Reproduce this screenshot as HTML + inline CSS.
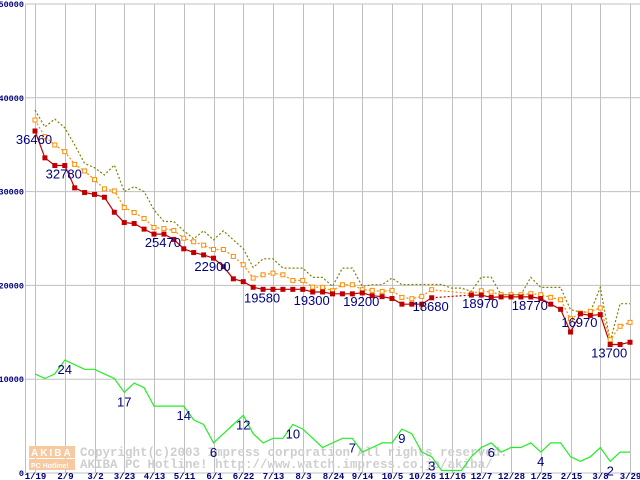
<!DOCTYPE html>
<html><head><meta charset="utf-8"><style>
body{margin:0;background:#fff;width:640px;height:480px;overflow:hidden}
svg{display:block}
</style></head><body>
<svg id="c" width="640" height="480" xmlns="http://www.w3.org/2000/svg">
<g id="grid"></g>
<g id="wm">
<rect x="29" y="446" width="46" height="12" fill="#f8c8a0"/>
<rect x="29" y="459" width="46" height="11" fill="#f8c8a0"/>
<text x="31" y="456" font-family="Liberation Sans, sans-serif" font-size="10" font-weight="bold" fill="#fff" letter-spacing="2">AKIBA</text>
<text x="31" y="468" font-family="Liberation Sans, sans-serif" font-size="7" font-weight="bold" fill="#fff">PC Hotline!</text>
<text x="80" y="456" font-family="Liberation Mono, monospace" font-size="12.5" font-weight="bold" fill="#cfcfcf">Copyright(c)2003 Impress corporation All rights reserved.</text>
<text x="80" y="468" font-family="Liberation Mono, monospace" font-size="12.5" font-weight="bold" fill="#cfcfcf">AKIBA PC Hotline! http://www.watch.impress.co.jp/akiba/</text>
</g>
<g id="series"></g>
<g id="labels"></g>
</svg>
<script>
const xLabels=["1/19","2/9","3/2","3/23","4/13","5/11","6/1","6/22","7/13","8/3","8/24","9/14","10/5","10/26","11/16","12/7","12/28","1/25","2/15","3/8","3/29"];
const yTicks=[0,10000,20000,30000,40000,50000];
const maxPrice=[38690,36900,37730,36800,34970,33010,32550,31770,32840,30000,30530,30000,28050,26810,26810,25820,24970,25820,24860,25820,24860,23900,21910,22840,22840,21840,21840,21840,20850,20850,19890,21840,21840,19890,20070,20070,20780,20070,20100,20100,20100,20100,19710,19710,19360,20880,20880,19010,19010,19010,20850,19790,19790,19790,17410,17160,17160,19790,14040,18050,18050];
const avgPrice=[37630,35850,34970,34260,32900,32200,31280,30290,30070,28300,27770,27130,26170,26060,25850,25030,24650,24290,23830,23830,23090,22200,20780,21130,21310,21130,20530,20530,19820,19790,19430,20070,20070,19540,19470,19360,19470,18720,18580,18830,19540,null,null,null,19110,19430,19290,19010,19010,19010,19110,19010,18720,18470,16450,17050,17230,17590,14220,15640,16060];
const minPrice=[36460,33600,32780,32780,30400,29900,29700,29400,27800,26700,26600,26000,25470,25470,24900,23900,23500,23250,22900,22000,20700,20400,19800,19580,19580,19580,19580,19580,19300,19300,19100,19100,19100,19200,18900,18800,18600,18000,18000,18000,18680,null,null,null,18970,18970,18720,18770,18770,18770,18770,18600,18000,17450,15030,16970,16800,16880,13700,13700,13940];
const shopCount=[21,20,21,24,23,22,22,21,20,17,19,18,14,14,14,14,11,10,6,8,10,12,8,6,7,7,10,9,7,5,6,7,7,4,5,6,6,9,8,4,3,0,0,0,3,5,6,4,5,5,6,4,6,6,3,2,3,5,2,4,4];
const priceLabels=[[0,"36460"],[3,"32780"],[13,"25470"],[18,"22900"],[23,"19580"],[28,"19300"],[33,"19200"],[40,"18680"],[45,"18970"],[50,"18770"],[55,"16970"],[58,"13700"]];
const countLabels=[[3,"24"],[9,"17"],[15,"14"],[18,"6"],[21,"12"],[26,"10"],[32,"7"],[37,"9"],[40,"3"],[46,"6"],[51,"4"],[58,"2"]];

const NS="http://www.w3.org/2000/svg";
const X=i=>35+i*9.917;
const Y=v=>473-v*0.00938;
const YC=v=>470.5-v*4.6;
function mk(tag,attrs,parent){const e=document.createElementNS(NS,tag);for(const k in attrs)e.setAttribute(k,attrs[k]);parent.appendChild(e);return e;}
const grid=document.getElementById('grid'),ser=document.getElementById('series'),lab=document.getElementById('labels');
yTicks.forEach(v=>{
 const l=mk('line',{x1:25.5,x2:640,y1:Y(v),y2:Y(v),stroke:'#c0c0c0','stroke-width':1},grid);
 
 
 const t=mk('text',{x:24,y:Y(v)+3,'text-anchor':'end','font-family':'Liberation Mono, monospace','font-size':8.5,'font-weight':'bold',fill:'#000080'},grid);
 t.textContent=String(v);
 
 
});
const ax=mk('line',{x1:25.5,x2:25.5,y1:Y(50000),y2:Y(0),stroke:'#c0c0c0','stroke-width':1},grid);


xLabels.forEach((s,k)=>{
 const x=Math.round(X(k*3))+0.5;
 const l=mk('line',{x1:x,x2:x,y1:Y(50000),y2:Y(0),stroke:'#c0c0c0','stroke-width':1},grid);
 
 
 const t=mk('text',{x:x,y:479,'text-anchor':'middle','font-family':'Liberation Mono, monospace','font-size':9,'font-weight':'bold',fill:'#000080'},grid);
 t.textContent=s;
 
 
});
function segs(arr,f){const out=[];let cur=[];arr.forEach((v,i)=>{if(v==null){if(cur.length)out.push(cur);cur=[];}else cur.push([X(i),f(v)]);});if(cur.length)out.push(cur);return out;}
function pts(a){return a.map(p=>p[0].toFixed(1)+','+p[1].toFixed(1)).join(' ');}
function drawLine(arr,f,color,dash,name,gapDash){
 const s=segs(arr,f);
 s.forEach((sg,k)=>{
  const p=mk('polyline',{points:pts(sg),fill:'none',stroke:color,'stroke-width':1.2},ser);
  if(dash)p.setAttribute('stroke-dasharray',dash);
  
  
  if(k<s.length-1){const a=sg[sg.length-1],b=s[k+1][0];
   const g=mk('line',{x1:a[0],y1:a[1],x2:b[0],y2:b[1],stroke:color,'stroke-width':1.2,'stroke-dasharray':gapDash},ser);
   
   }
 });
}
drawLine(shopCount,YC,'#22ee22',null,'shop-count-line','2,2');
drawLine(maxPrice,Y,'#808000','2,2','max-price-line','2,2');
drawLine(avgPrice,Y,'#ff8c00','2,2','avg-price-line','2,2');
drawLine(minPrice,Y,'#c00000',null,'min-price-line','2,2');
avgPrice.forEach((v,i)=>{if(v==null)return;
 const r=mk('rect',{x:X(i)-2,y:Y(v)-2,width:4,height:4,fill:'#fff',stroke:'#ff8c00','stroke-width':1},ser);
 
 });
minPrice.forEach((v,i)=>{if(v==null)return;
 const r=mk('rect',{x:X(i)-2.5,y:Y(v)-2.5,width:5,height:5,fill:'#c00000'},ser);
 
 });
priceLabels.forEach(([i,s])=>{
 const t=mk('text',{x:X(i)-1,y:Y(minPrice[i])+13,'text-anchor':'middle','font-family':'Liberation Sans, sans-serif','font-size':13,fill:'#000080'},lab);
 t.textContent=s;
 
 });
countLabels.forEach(([i,s])=>{
 const t=mk('text',{x:X(i),y:YC(shopCount[i])+14,'text-anchor':'middle','font-family':'Liberation Sans, sans-serif','font-size':13,fill:'#000080'},lab);
 t.textContent=s;
 
 });
</script>
</body></html>
